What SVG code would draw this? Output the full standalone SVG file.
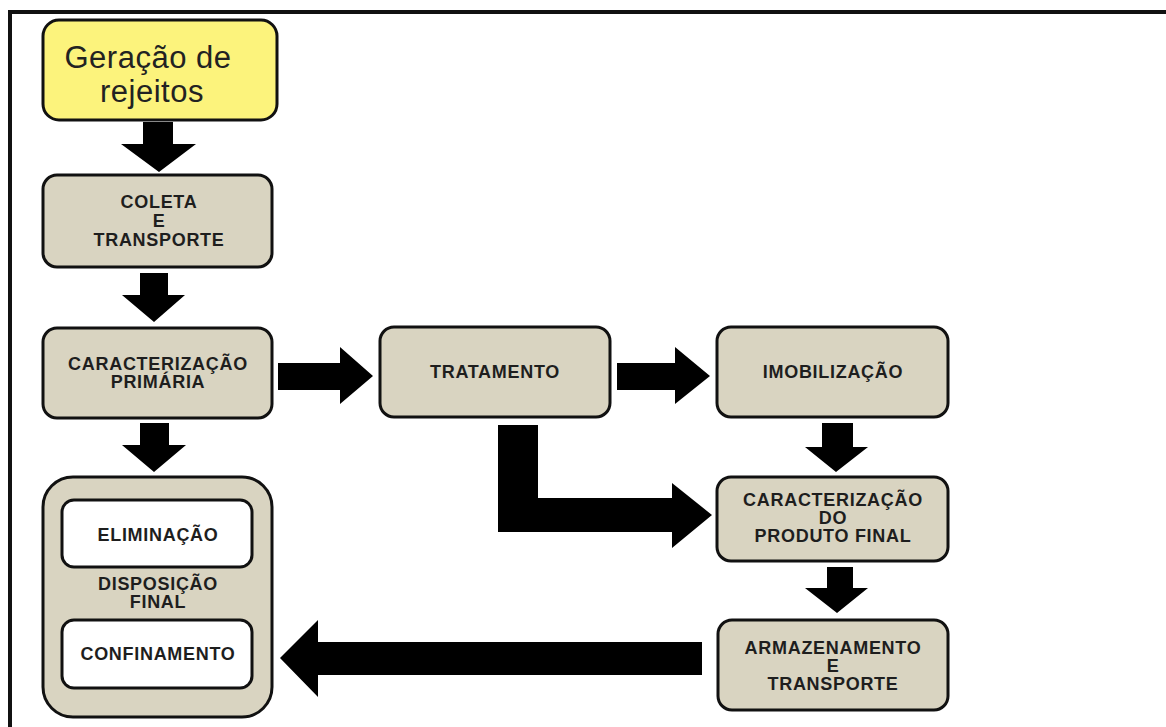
<svg xmlns="http://www.w3.org/2000/svg" width="1166" height="727" viewBox="0 0 1166 727">
<style>
.box{fill:#d9d4c1;stroke:#111;stroke-width:3}
.inner{fill:#ffffff;stroke:#111;stroke-width:3}
.lbl{font-family:"Liberation Sans",Arial,sans-serif;font-weight:bold;font-size:18px;fill:#1e1e1e;text-anchor:middle;letter-spacing:0.7px}
.big{font-family:"Liberation Sans",Arial,sans-serif;font-size:31px;fill:#222;text-anchor:middle;letter-spacing:0.5px}
.arr{fill:#000}
</style>
<rect x="0" y="0" width="1166" height="727" fill="#ffffff"/>
<g id="frame">
<line x1="8" y1="12" x2="1166" y2="12" stroke="#111" stroke-width="4"/>
<line x1="10" y1="10" x2="10" y2="727" stroke="#111" stroke-width="4"/>
</g>
<g id="geracao">
<rect x="43" y="20" width="234" height="100" rx="16" fill="#fcf37c" stroke="#111" stroke-width="3"/>
<text class="big" x="148" y="68">Geração de</text>
<text class="big" x="152" y="102">rejeitos</text>
</g>
<g id="coleta">
<rect class="box" x="43" y="175" width="229" height="92" rx="14"/>
<text class="lbl" x="159" y="208">COLETA</text>
<text class="lbl" x="159" y="227">E</text>
<text class="lbl" x="159" y="246">TRANSPORTE</text>
</g>
<g id="caracterizacao-primaria">
<rect class="box" x="43" y="328" width="229" height="90" rx="14"/>
<text class="lbl" x="158" y="370">CARACTERIZAÇÃO</text>
<text class="lbl" x="158" y="388">PRIMÁRIA</text>
</g>
<g id="tratamento">
<rect class="box" x="380" y="327" width="230" height="90" rx="14"/>
<text class="lbl" x="495" y="378">TRATAMENTO</text>
</g>
<g id="imobilizacao">
<rect class="box" x="717" y="327" width="231" height="90" rx="14"/>
<text class="lbl" x="833" y="378">IMOBILIZAÇÃO</text>
</g>
<g id="caracterizacao-final">
<rect class="box" x="717" y="477" width="231" height="84" rx="14"/>
<text class="lbl" x="833" y="506">CARACTERIZAÇÃO</text>
<text class="lbl" x="833" y="524">DO</text>
<text class="lbl" x="833" y="542">PRODUTO FINAL</text>
</g>
<g id="armazenamento">
<rect class="box" x="718" y="620" width="230" height="90" rx="14"/>
<text class="lbl" x="833" y="654">ARMAZENAMENTO</text>
<text class="lbl" x="833" y="672">E</text>
<text class="lbl" x="833" y="690">TRANSPORTE</text>
</g>
<g id="disposicao-final">
<rect class="box" x="43" y="477" width="229" height="240" rx="30"/>
<text class="lbl" x="158" y="590">DISPOSIÇÃO</text>
<text class="lbl" x="158" y="608">FINAL</text>
</g>
<g id="eliminacao">
<rect class="inner" x="62" y="500" width="190" height="67" rx="12"/>
<text class="lbl" x="158" y="541">ELIMINAÇÃO</text>
</g>
<g id="confinamento">
<rect class="inner" x="62" y="620" width="190" height="68" rx="12"/>
<text class="lbl" x="158" y="660">CONFINAMENTO</text>
</g>
<g id="connectors">
<polygon class="arr" points="143,122 173,122 173,144 196,144 159,172 121,144 143,144"/>
<polygon class="arr" points="140,273 168,273 168,295 185,295 154,322 122,295 140,295"/>
<polygon class="arr" points="140,423 169,423 169,445 186,445 154,472 122,445 140,445"/>
<polygon class="arr" points="278,363 340,363 340,347 373,376 340,404 340,390 278,390"/>
<polygon class="arr" points="617,363 675,363 675,347 710,376 675,404 675,390 617,390"/>
<polygon class="arr" points="822,423 853,423 853,447 868,447 836,472 805,447 822,447"/>
<polygon class="arr" points="498,425 538,425 538,498 672,498 672,483 712,515 672,548 672,532 498,532"/>
<polygon class="arr" points="827,567 853,567 853,588 868,588 837,613 805,588 827,588"/>
<polygon class="arr" points="702,642 318,642 318,620 280,658 318,697 318,675 702,675"/>
</g>
</svg>
